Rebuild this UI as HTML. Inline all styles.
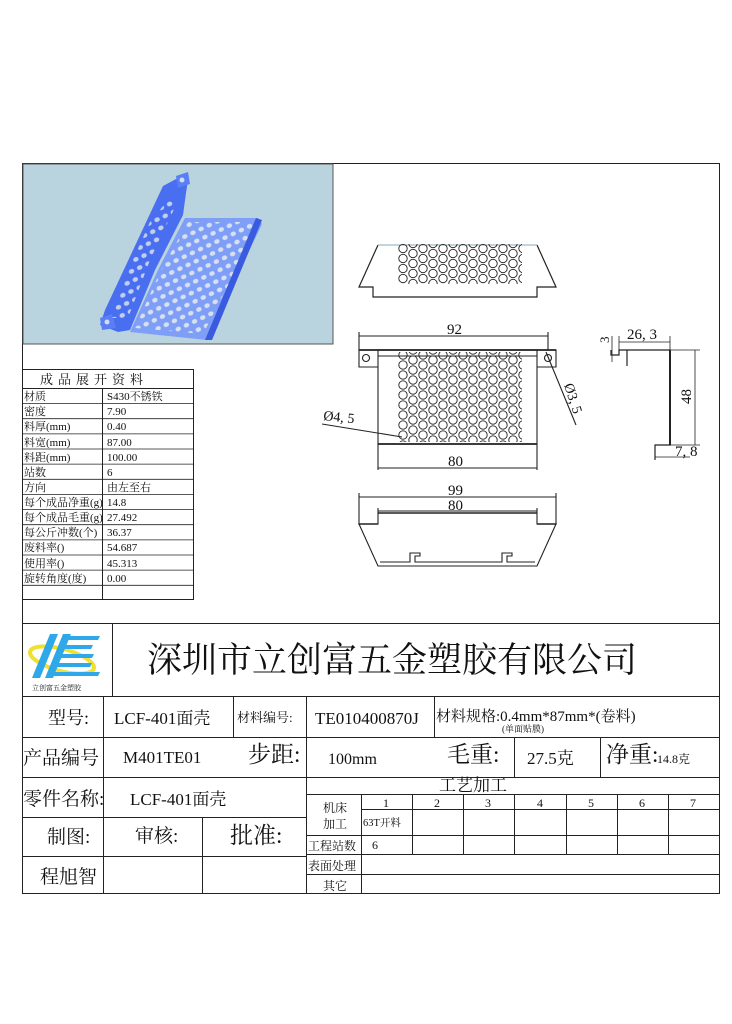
<!DOCTYPE html>
<html><head><meta charset="utf-8"><style>
html,body{margin:0;padding:0;background:#fff}
svg{display:block}
text{font-family:"Liberation Serif","Noto Serif CJK SC",serif;fill:#111}
</style></head><body>
<svg width="732" height="1024" viewBox="0 0 732 1024" xmlns="http://www.w3.org/2000/svg">
<defs>
<g id="hc">
<circle cx="5" cy="2.5" r="4.2"/><circle cx="5" cy="12.5" r="4.2"/><circle cx="25" cy="2.5" r="4.2"/><circle cx="25" cy="12.5" r="4.2"/>
<circle cx="15" cy="7.5" r="4.2"/><circle cx="15" cy="-2.5" r="4.2"/><circle cx="-5" cy="7.5" r="4.2"/><circle cx="-5" cy="-2.5" r="4.2"/>
</g>
<pattern id="holes" x="398" y="352.5" width="20" height="10" patternUnits="userSpaceOnUse">
<use href="#hc" fill="none" stroke="#222" stroke-width="0.9"/>
</pattern>
<pattern id="holes2" x="398" y="246" width="20" height="10" patternUnits="userSpaceOnUse">
<use href="#hc" fill="none" stroke="#222" stroke-width="0.9"/>
</pattern>
<pattern id="bh" width="9" height="9" patternUnits="userSpaceOnUse" patternTransform="rotate(-25)">
<ellipse cx="4.5" cy="4.5" rx="2.8" ry="2.3" fill="#d6e0ee"/>
</pattern>
</defs>

<rect x="22.5" y="163.5" width="697" height="730" fill="none" stroke="#222" stroke-width="1"/>
<rect x="23" y="164" width="310" height="180" fill="#b9d3df" stroke="#555" stroke-width="1"/>
<g>
<polygon points="163,186 178,178 188,180 186,193 183,215 155,270 130,330 118,332 100,325 105,310" fill="#4a6ef0"/>
<polygon points="176,176 188,172 190,184 178,188" fill="#5a7ef5"/>
<polygon points="100,318 112,314 116,328 102,330" fill="#5a7ef5"/>
<polygon points="185,218 258,218 262,224 240,270 207,340 130,332 158,270" fill="#7e9ef7"/>
<polygon points="188,222 255,222 237,268 203,334 135,328 160,272" fill="url(#bh)"/>
<polygon points="112,318 132,262 150,222 168,200 176,205 150,260 128,318" fill="url(#bh)" opacity="0.85"/>
<polygon points="256,218 262,220 212,340 205,340" fill="#3a5ae0"/>
<circle cx="182" cy="180" r="2.5" fill="#d0dcf0"/><circle cx="107" cy="322" r="2.5" fill="#d0dcf0"/>
</g>

<g stroke="#222" stroke-width="1" fill="none">
<rect x="22.5" y="369.5" width="171" height="230"/>
<line x1="22" y1="388.5" x2="193" y2="388.5"/>
<line x1="102.5" y1="388" x2="102.5" y2="600"/>
</g>
<g stroke="#222" stroke-width="0.8">
<line x1="22" y1="403.6" x2="193" y2="403.6"/><line x1="22" y1="418.7" x2="193" y2="418.7"/>
<line x1="22" y1="433.9" x2="193" y2="433.9"/><line x1="22" y1="449" x2="193" y2="449"/>
<line x1="22" y1="464.1" x2="193" y2="464.1"/><line x1="22" y1="479.3" x2="193" y2="479.3"/>
<line x1="22" y1="494.4" x2="193" y2="494.4"/><line x1="22" y1="509.6" x2="193" y2="509.6"/>
<line x1="22" y1="524.7" x2="193" y2="524.7"/><line x1="22" y1="539.9" x2="193" y2="539.9"/>
<line x1="22" y1="555" x2="193" y2="555"/><line x1="22" y1="570.1" x2="193" y2="570.1"/>
<line x1="22" y1="585.3" x2="193" y2="585.3"/>
</g>
<text x="40" y="384" font-size="13" letter-spacing="5">成品展开资料</text>
<g font-size="11">
<text x="24" y="400">材质</text><text x="107" y="400">S430不锈铁</text>
<text x="24" y="415">密度</text><text x="107" y="415">7.90</text>
<text x="24" y="430">料厚(mm)</text><text x="107" y="430">0.40</text>
<text x="24" y="446">料宽(mm)</text><text x="107" y="446">87.00</text>
<text x="24" y="461">料距(mm)</text><text x="107" y="461">100.00</text>
<text x="24" y="476">站数</text><text x="107" y="476">6</text>
<text x="24" y="491">方向</text><text x="107" y="491">由左至右</text>
<text x="24" y="506">每个成品净重(g)</text><text x="107" y="506">14.8</text>
<text x="24" y="521">每个成品毛重(g)</text><text x="107" y="521">27.492</text>
<text x="24" y="536">每公斤冲数(个)</text><text x="107" y="536">36.37</text>
<text x="24" y="551">废料率()</text><text x="107" y="551">54.687</text>
<text x="24" y="567">使用率()</text><text x="107" y="567">45.313</text>
<text x="24" y="582">旋转角度(度)</text><text x="107" y="582">0.00</text>
</g>

<g fill="none" stroke="#222" stroke-width="1.2">
<polyline points="378,245 359,287 373,287 373,297 537,297 537,287 556,287 537,245"/>
<line x1="378" y1="245" x2="537" y2="245" stroke="#8ab" stroke-width="1"/>
</g>
<rect x="398" y="244" width="124" height="40" fill="url(#holes2)"/>

<g fill="none" stroke="#222" stroke-width="1.1">
<line x1="359" y1="336" x2="548" y2="336"/>
<line x1="359" y1="332" x2="359" y2="350"/><line x1="548" y1="332" x2="548" y2="350"/>
<polyline points="378,350 359,350 359,367 378,367"/>
<polyline points="537,350 556,350 556,367 537,367"/>
<line x1="359" y1="350" x2="556" y2="350" stroke-width="1.8"/>
<line x1="378" y1="356" x2="537" y2="356"/>
<rect x="378" y="350" width="159" height="94"/>
<line x1="378" y1="444" x2="537" y2="444" stroke-width="1.8"/>
<circle cx="366" cy="358" r="3.5"/><circle cx="548" cy="358" r="3.5"/>
<line x1="378" y1="444" x2="378" y2="470"/><line x1="537" y1="444" x2="537" y2="470"/>
<line x1="378" y1="468" x2="537" y2="468"/>
<line x1="322" y1="424" x2="402" y2="437"/>
<line x1="546" y1="352" x2="576" y2="425"/>
</g>
<rect x="398" y="352" width="124" height="90" fill="url(#holes)"/>
<text x="447" y="334" font-size="15">92</text>
<text x="448" y="466" font-size="15">80</text>
<text x="323" y="420" font-size="14" transform="rotate(6 323 420)">Ø4, 5</text>
<text x="564" y="385" font-size="14" transform="rotate(72 564 385)">Ø3, 5</text>

<g fill="none" stroke="#222" stroke-width="1.2">
<polyline points="611,350 611,355 619,355 619,350 670,350 670,445 655,445 655,460"/>
<line x1="627" y1="350" x2="627" y2="366"/>
<line x1="670" y1="350" x2="670" y2="445" stroke-width="2"/>
<line x1="619" y1="342" x2="670" y2="342" stroke-width="0.8"/>
<line x1="619" y1="336" x2="619" y2="350" stroke-width="0.8"/>
<line x1="670" y1="336" x2="670" y2="350" stroke-width="0.8"/>
<line x1="612" y1="336" x2="612" y2="362" stroke-width="0.8"/>
<line x1="670" y1="350" x2="700" y2="350" stroke-width="0.8"/>
<line x1="670" y1="445" x2="700" y2="445" stroke-width="0.8"/>
<line x1="695" y1="350" x2="695" y2="445" stroke-width="0.8"/>
<line x1="655" y1="457" x2="690" y2="457" stroke-width="0.8"/>
</g>
<text x="627" y="339" font-size="15">26, 3</text>
<text x="609" y="343" font-size="13" transform="rotate(-90 609 343)">3</text>
<text x="691" y="404" font-size="15" transform="rotate(-90 691 404)">48</text>
<text x="675" y="456" font-size="15">7, 8</text>

<g fill="none" stroke="#222" stroke-width="1.1">
<line x1="359" y1="497" x2="556" y2="497"/>
<line x1="359" y1="493" x2="359" y2="525"/><line x1="556" y1="493" x2="556" y2="525"/>
<line x1="378" y1="511" x2="537" y2="511"/>
<line x1="378" y1="513" x2="537" y2="513" stroke-width="1.6"/>
<polyline points="378,508 378,524 359,524 378,566 537,566 556,524 537,524 537,508"/>
<line x1="359" y1="524" x2="378" y2="524" stroke-width="1.6"/>
<line x1="537" y1="524" x2="556" y2="524" stroke-width="1.6"/>
<polyline points="380,562 410,562 410,553 420,553 420,556 415,556 415,562 502,562 502,553 512,553 512,556 507,556 507,562 535,562"/>
</g>
<text x="448" y="495" font-size="15">99</text>
<text x="448" y="510" font-size="15">80</text>

<line x1="22" y1="623.5" x2="719" y2="623.5" stroke="#222"/>
<rect x="22.5" y="623.5" width="90" height="73" fill="none" stroke="#222"/>
<ellipse cx="62" cy="660" rx="33" ry="11" fill="none" stroke="#f0e030" stroke-width="4" transform="rotate(15 62 660)"/>
<g fill="#2ea8e8">
<polygon points="50,634 58,634 40,678 32,678"/>
<polygon points="63,634 71,634 53,678 45,678"/>
<polygon points="70,636 100,636 98,640 68,640"/><polygon points="66,645 93,645 91,649 64,649"/>
<polygon points="62,654 94,654 92,658 60,658"/><polygon points="58,663 92,663 90,667 56,667"/>
<polygon points="54,672 100,672 98,676 52,676"/>
</g>
<text x="32" y="690" font-size="7" fill="#3a6">立创富五金塑胶</text>
<text x="147" y="672" font-size="35">深圳市立创富五金塑胶有限公司</text>

<g stroke="#222" stroke-width="1" fill="none">
<line x1="22" y1="696.5" x2="719" y2="696.5"/>
<line x1="22" y1="737.5" x2="719" y2="737.5"/>
<line x1="22" y1="777.5" x2="719" y2="777.5"/>
<line x1="22" y1="817.5" x2="306" y2="817.5"/>
<line x1="22" y1="856.5" x2="306" y2="856.5"/>
<line x1="103.5" y1="696" x2="103.5" y2="894"/>
<line x1="233.5" y1="696" x2="233.5" y2="737"/>
<line x1="306.5" y1="696" x2="306.5" y2="894"/>
<line x1="434.5" y1="696" x2="434.5" y2="737"/>
<line x1="514.5" y1="737" x2="514.5" y2="777"/>
<line x1="600.5" y1="737" x2="600.5" y2="777"/>
<line x1="202.5" y1="817" x2="202.5" y2="894"/>
<line x1="306" y1="794.5" x2="719" y2="794.5"/>
<line x1="361" y1="809.5" x2="719" y2="809.5"/>
<line x1="306" y1="835.5" x2="719" y2="835.5"/>
<line x1="306" y1="854.5" x2="719" y2="854.5"/>
<line x1="306" y1="874.5" x2="719" y2="874.5"/>
<line x1="361.5" y1="794" x2="361.5" y2="894"/>
<line x1="412.5" y1="794" x2="412.5" y2="854"/>
<line x1="463.5" y1="794" x2="463.5" y2="854"/>
<line x1="514.5" y1="794" x2="514.5" y2="854"/>
<line x1="566.5" y1="794" x2="566.5" y2="854"/>
<line x1="617.5" y1="794" x2="617.5" y2="854"/>
<line x1="668.5" y1="794" x2="668.5" y2="854"/>
</g>
<text x="48" y="724" font-size="18">型号:</text>
<text x="114" y="724" font-size="17">LCF-401面壳</text>
<text x="237" y="722" font-size="13">材料编号:</text>
<text x="315" y="724" font-size="17">TE010400870J</text>
<text x="436" y="721" font-size="15">材料规格:0.4mm*87mm*(卷料)</text>
<text x="502" y="732" font-size="9">(单面贴膜)</text>
<text x="23" y="764" font-size="19">产品编号</text>
<text x="123" y="763" font-size="17">M401TE01</text>
<text x="248" y="762" font-size="23">步距:</text>
<text x="328" y="764" font-size="16">100mm</text>
<text x="447" y="762" font-size="23">毛重:</text>
<text x="527" y="764" font-size="17">27.5克</text>
<text x="606" y="762" font-size="23">净重:</text>
<text x="657" y="763" font-size="12">14.8克</text>
<text x="23" y="805" font-size="19">零件名称:</text>
<text x="130" y="805" font-size="17">LCF-401面壳</text>
<text x="439" y="791" font-size="17">工艺加工</text>
<g font-size="12" text-anchor="middle">
<text x="386" y="807">1</text><text x="437" y="807">2</text><text x="488" y="807">3</text>
<text x="540" y="807">4</text><text x="591" y="807">5</text><text x="642" y="807">6</text><text x="693" y="807">7</text>
</g>
<text x="323" y="812" font-size="12">机床</text>
<text x="323" y="828" font-size="12">加工</text>
<text x="363" y="826" font-size="10.5">63T开料</text>
<text x="308" y="850" font-size="12">工程站数</text>
<text x="372" y="849" font-size="12">6</text>
<text x="308" y="870" font-size="12">表面处理</text>
<text x="323" y="890" font-size="12">其它</text>
<text x="47" y="843" font-size="19">制图:</text>
<text x="135" y="842" font-size="19">审核:</text>
<text x="230" y="843" font-size="23">批准:</text>
<text x="40" y="883" font-size="19">程旭智</text>
</svg>
</body></html>
